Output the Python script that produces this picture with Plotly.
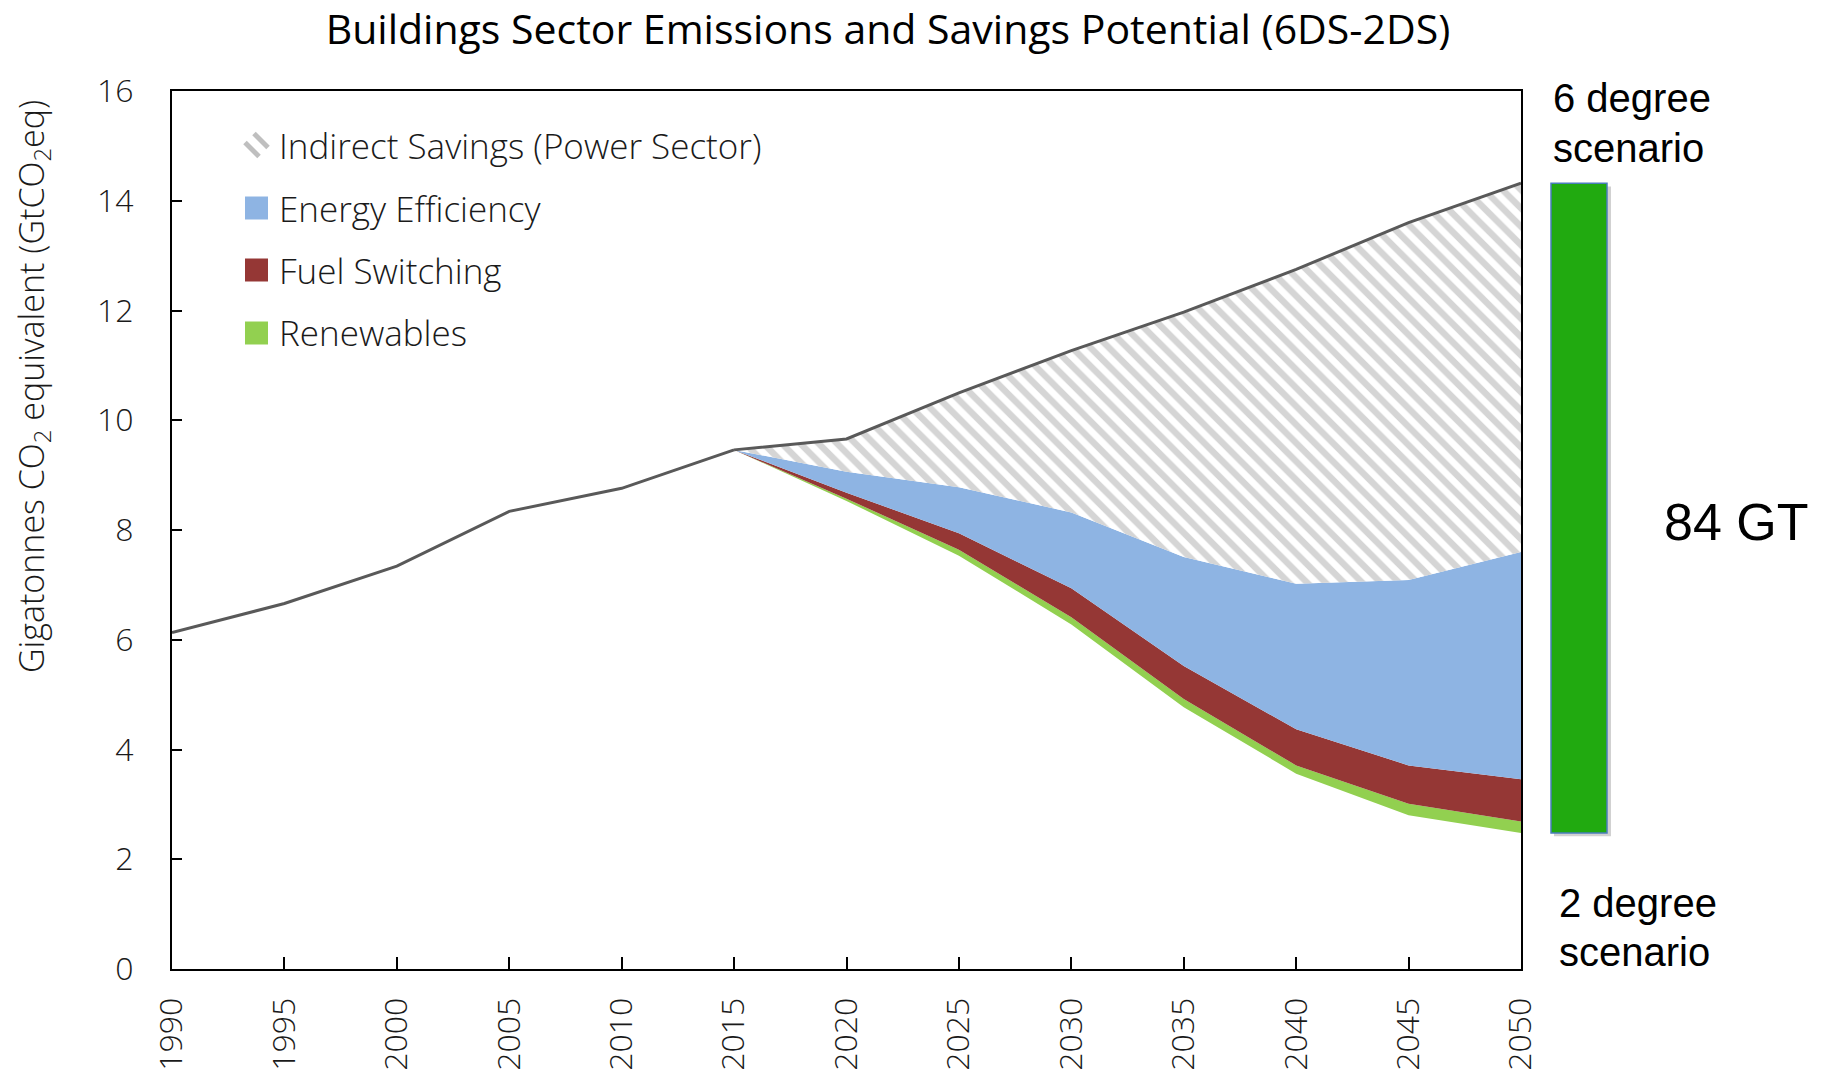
import plotly.graph_objects as go

# ---------------- data ----------------
hist_years = [1990, 1995, 2000, 2005, 2010, 2015]
hist_emissions = [6.13, 6.66, 7.34, 8.34, 8.76, 9.46]

proj_years = [2015, 2020, 2025, 2030, 2035, 2040, 2045, 2050]
six_ds = [9.46, 9.66, 10.50, 11.27, 11.97, 12.75, 13.60, 14.32]      # 6 degree scenario (top)
ee_top = [9.46, 9.06, 8.78, 8.32, 7.51, 7.02, 7.09, 7.60]            # top of energy efficiency
fs_top = [9.46, 8.68, 7.94, 6.94, 5.52, 4.37, 3.71, 3.46]            # top of fuel switching
ren_top = [9.46, 8.57, 7.64, 6.41, 4.92, 3.71, 3.01, 2.69]           # top of renewables
two_ds = [9.46, 8.53, 7.53, 6.28, 4.77, 3.56, 2.80, 2.48]            # 2 degree scenario (bottom)

x_ticks = [1990, 1995, 2000, 2005, 2010, 2015, 2020, 2025, 2030, 2035, 2040, 2045, 2050]
y_ticks = [0, 2, 4, 6, 8, 10, 12, 14, 16]

legend_labels = ["Indirect Savings (Power Sector)", "Energy Efficiency", "Fuel Switching", "Renewables"]
legend_colors = [None, "#8EB4E3", "#953735", "#92D050"]

title_text = "Buildings Sector Emissions and Savings Potential (6DS-2DS)"
total_savings_label = "84 GT"

# ---------------- layout helpers ----------------
# screen-space plot box (page body has an 8px margin, compensated below)
OFF = 8
SW, SH = 1825, 1077
W, H = SW - OFF, SH - OFF
L, R, T, B = 172, 1521, 91, 969


def px(xp):
    return (xp - L) / (R - L)


def py(yp):
    return (B - yp) / (B - T)


FONT = "Open Sans"
TXT = "#1a1a1a"

fig = go.Figure()

# stacked savings wedges
fig.add_trace(go.Scatter(x=proj_years, y=two_ds, mode="lines", line=dict(width=0, color="#92D050"),
                         showlegend=False, hoverinfo="skip"))
fig.add_trace(go.Scatter(x=proj_years, y=ren_top, mode="lines", line=dict(width=0, color="#92D050"),
                         fill="tonexty", fillcolor="#92D050", name="Renewables", showlegend=False))
fig.add_trace(go.Scatter(x=proj_years, y=fs_top, mode="lines", line=dict(width=0, color="#953735"),
                         fill="tonexty", fillcolor="#953735", name="Fuel Switching", showlegend=False))
fig.add_trace(go.Scatter(x=proj_years, y=ee_top, mode="lines", line=dict(width=0, color="#8EB4E3"),
                         fill="tonexty", fillcolor="#8EB4E3", name="Energy Efficiency", showlegend=False))
fig.add_trace(go.Scatter(x=proj_years, y=six_ds, mode="lines", line=dict(width=3, color="#595959"),
                         fill="tonexty", fillcolor="white",
                         fillpattern=dict(shape="\\", fgcolor="#ABABAB", bgcolor="white", size=13,
                                          solidity=0.5),
                         name="Indirect Savings (Power Sector)", showlegend=False))
fig.add_trace(go.Scatter(x=hist_years, y=hist_emissions, mode="lines", line=dict(width=3, color="#595959"),
                         showlegend=False, name="Historical"))

shapes = []
annotations = []

# green scenario-gap bar (shadow + bar), spanning 2DS to 6DS in 2050
shapes.append(dict(type="rect", xref="paper", yref="y", x0=px(1554), x1=px(1611),
                   y0=two_ds[-1] - 0.06, y1=six_ds[-1] - 0.06, line=dict(width=0),
                   fillcolor="rgba(0,0,0,0.18)", layer="above"))
shapes.append(dict(type="rect", xref="paper", yref="y", x0=px(1551), x1=px(1607),
                   y0=two_ds[-1], y1=six_ds[-1], line=dict(width=1.5, color="#4A7EBB"),
                   fillcolor="#21AA10", layer="above"))

# manual legend
row_y = [145, 208, 270, 333]
sw_x0, sw_x1 = 245, 268
half = 11.5
for i, (lab, col) in enumerate(zip(legend_labels, legend_colors)):
    yc = row_y[i]
    if col is None:
        # hatched swatch
        for (ax0, ay0, ax1, ay1) in [(sw_x0 + 9, yc - half, sw_x1, yc + half - 9),
                                     (sw_x0, yc - half + 9, sw_x1 - 9, yc + half)]:
            shapes.append(dict(type="line", xref="paper", yref="paper",
                               x0=px(ax0), y0=py(ay0), x1=px(ax1), y1=py(ay1),
                               line=dict(color="#BFBFBF", width=5), layer="above"))
    else:
        shapes.append(dict(type="rect", xref="paper", yref="paper",
                           x0=px(sw_x0), x1=px(sw_x1), y0=py(yc + half), y1=py(yc - half),
                           fillcolor=col, line=dict(width=0), layer="above"))
    annotations.append(dict(xref="paper", yref="paper", x=px(277), y=py(yc), text=lab,
                            showarrow=False, xanchor="left", yanchor="middle",
                            font=dict(family=FONT, size=35, color=TXT, weight=300)))

# y-axis title
annotations.append(dict(xref="paper", yref="paper", x=px(33), y=py(387),
                        text="Gigatonnes CO<sub>2</sub> equivalent (GtCO<sub>2</sub>eq)",
                        textangle=-90, showarrow=False, xanchor="center", yanchor="middle",
                        font=dict(family=FONT, size=34, color=TXT, weight=300)))

# scenario labels
ARIAL = "Liberation Sans, Arial"
for txt, xl, yc in [("6 degree", 1551, 98), ("scenario", 1551, 148),
                    ("2 degree", 1557, 903), ("scenario", 1557, 952)]:
    annotations.append(dict(xref="paper", yref="paper", x=px(xl), y=py(yc), text=txt,
                            showarrow=False, xanchor="left", yanchor="middle",
                            font=dict(family=ARIAL, size=40, color="black")))
annotations.append(dict(xref="paper", yref="paper", x=px(1736), y=py(522), text=total_savings_label,
                        showarrow=False, xanchor="center", yanchor="middle",
                        font=dict(family=ARIAL, size=52, color="black")))

fig.update_layout(
    width=W, height=H,
    margin=dict(l=L - OFF, r=W - (R - OFF), t=T - OFF, b=H - (B - OFF), pad=0,
                autoexpand=False),
    paper_bgcolor="white", plot_bgcolor="white",
    title=dict(text=title_text, x=(888 - OFF) / W, xanchor="center", xref="container",
               y=1 - (30 - OFF) / H, yanchor="middle", yref="container",
               font=dict(family=FONT, size=41, color="black")),
    shapes=shapes, annotations=annotations,
    showlegend=False,
)

fig.update_xaxes(range=[1990, 2050], tickvals=x_ticks, ticktext=[str(v) for v in x_ticks],
                 tickangle=-90, ticks="inside", ticklen=12, tickwidth=2, tickcolor="black",
                 showline=True, linecolor="black", linewidth=2, mirror=True, automargin=False,
                 showgrid=False, zeroline=False, ticklabelstandoff=14,
                 tickfont=dict(family=FONT, size=32, color=TXT, weight=300))
fig.update_yaxes(range=[0, 16], tickvals=y_ticks, ticks="inside", ticklen=10, tickwidth=2,
                 tickcolor="black", showline=True, linecolor="black", linewidth=2, mirror=True,
                 automargin=False,
                 showgrid=False, zeroline=False, ticklabelstandoff=30,
                 tickfont=dict(family=FONT, size=32, color=TXT, weight=300))

fig.write_html("out.html")
